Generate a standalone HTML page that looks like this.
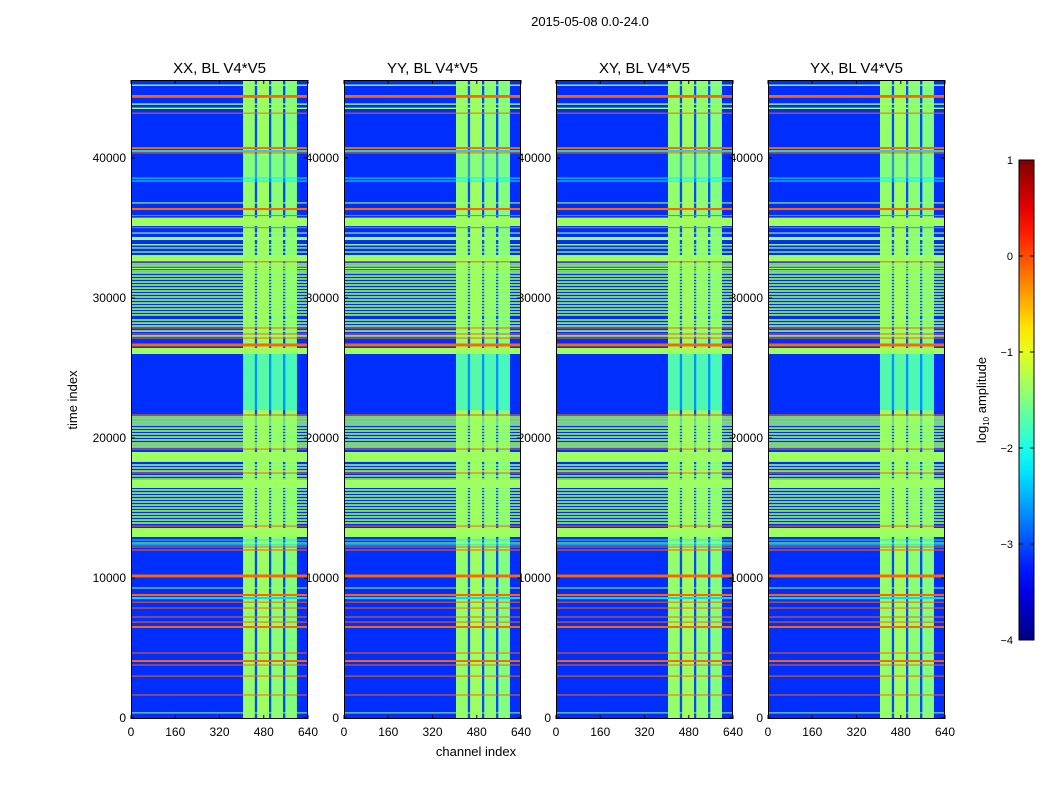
<!DOCTYPE html>
<html><head><meta charset="utf-8"><style>
html,body{margin:0;padding:0;background:#fff;}
svg{display:block;font-family:"Liberation Sans",sans-serif;}
</style></head><body>
<svg id="fig" width="1050" height="800" viewBox="0 0 1050 800">
<rect width="1050" height="800" fill="#fff"/>
<text x="590" y="26" font-size="13" text-anchor="middle">2015-05-08 0.0-24.0</text>
<text transform="translate(77,400) rotate(-90)" font-size="13" text-anchor="middle">time index</text>
<text x="476" y="756" font-size="13" text-anchor="middle">channel index</text>
<g id="labels"></g>
<g id="panels"></g>
<g id="cbar"></g>
</svg>
<script>
const panelTitles = ["XX, BL V4*V5","YY, BL V4*V5","XY, BL V4*V5","YX, BL V4*V5"];
const xTicks = [0,160,320,480,640];
const yTicks = [0,10000,20000,30000,40000];
const cbarTicks = [1,0,-1,-2,-3,-4];
const cbarTickLabels = ["1","0","\u22121","\u22122","\u22123","\u22124"];
const nChannels = 640;
const nTimes = 45600;
const backgroundLevel = -3.15;
// RFI channel columns: [chStart, chEnd, log10 amplitude]
const channelColumns = [[405,448,-1.4],[448,456,-3.0],[456,499,-1.35],[499,507,-3.0],[507,550,-1.45],[550,558,-3.0],[558,600,-1.5]];
// regions where columns are dimmer: [tStart,tEnd,level] on columns only
const quietColumns = [[22000,26000,-2.2],[38600,40300,-1.6]];
// wide horizontal bands: [tStart, tEnd, level]
const wideBands = [
 [45150,45250,-1.35],[44300,44500,-0.12],[43800,43900,-1.35],[43500,43600,-1.35],[43170,43240,-0.12],
 [40640,40780,-0.12],[40430,40570,-2.3],[40330,40400,-0.12],[38530,38600,-2.2],[38320,38390,-2.2],
 [36750,36830,-1.35],[36280,36430,-0.12],[35850,35930,-0.12],[35140,35740,-1.35],[34990,35060,-0.12],
 [34600,34680,-1.35],[34140,34360,-1.35],[33750,33850,-1.35],[33530,33620,-1.35],[33240,33330,-1.35],
 [32640,33070,-1.35],[32560,32620,-0.12],[26540,26750,-0.12],[26000,26430,-1.35],
 [21600,21680,-0.12],[18290,19000,-1.35],[16430,17000,-1.35],[12930,13570,-1.35],
 [12680,12750,-2.2],[12460,12540,-1.35],[12330,12400,-2.2],[12180,12250,-0.12],[11960,12040,-0.12],
 [10040,10250,-0.12],[9250,9320,-1.35],[8710,8860,-0.12],[8500,8640,-2.3],[8250,8310,-0.12],
 [7820,7890,-0.12],[7180,7250,-0.12],[6830,6890,-0.12],[6430,6570,-0.12],[4610,4680,-0.12],
 [4000,4140,-0.12],[3750,3820,-0.12],[2960,3030,-0.12],[1610,1680,-0.12],[330,400,-1.35]
];
// thin green lines: center times
const greenLines = [32430,32290,32110,31930,31790,31570,31360,31140,30930,30710,30500,30290,30070,29860,29640,29430,29210,29000,28790,28430,28210,28000,27640,27290,
 21500,21360,21210,21070,20930,20710,20500,20290,20070,19860,19640,19500,19360,18070,17860,17640,17290,17070,
 16290,16070,15860,15640,15430,15210,15000,14790,14570,14360,14140,13930];
// thin orange lines: center times
const orangeLines = [27860,27430,27140,19210,17500,13710];

function jet(v){
  let x=(v+4)/5; x=Math.max(0,Math.min(1,x));
  const c=a=>Math.round(255*Math.max(0,Math.min(1,a)));
  return `rgb(${c(1.5-Math.abs(4*x-3))},${c(1.5-Math.abs(4*x-2))},${c(1.5-Math.abs(4*x-1))})`;
}
const NS="http://www.w3.org/2000/svg";
function mk(tag,attrs,parent){const e=document.createElementNS(NS,tag);for(const k in attrs)e.setAttribute(k,attrs[k]);parent.appendChild(e);return e;}
const panelX=[131,344,556,768], PW=177, PTOP=80, PBOT=719;
const yScale=t=>718 - t*(560/40000);
const labelsG=document.getElementById('labels'), panelsG=document.getElementById('panels');
panelX.forEach((x0,pi)=>{
  const xScale=c=>x0 + c/nChannels*PW;
  yTicks.forEach(t=>{const tx=mk('text',{x:x0-5,y:yScale(t)+4,'font-size':12,'text-anchor':'end'},labelsG);tx.textContent=t;
    
    });
  xTicks.forEach(c=>{const tx=mk('text',{x:xScale(c),y:736,'font-size':12,'text-anchor':'middle'},labelsG);tx.textContent=c;
    
    });
  const g=mk('g',{},panelsG);
  
  
  const tt=mk('text',{x:x0+PW/2,y:73,'font-size':15,'text-anchor':'middle'},g);tt.textContent=panelTitles[pi];
  
  
  const bg=mk('rect',{x:x0,y:PTOP,width:PW,height:PBOT-PTOP,fill:jet(backgroundLevel)},g);
  
  
  channelColumns.forEach(cc=>{const r=mk('rect',{x:xScale(cc[0]),y:PTOP,width:xScale(cc[1])-xScale(cc[0]),height:PBOT-PTOP,fill:jet(cc[2])},g);
    
    });
  quietColumns.forEach(q=>{const r=mk('rect',{x:xScale(405),y:yScale(q[1]),width:xScale(600)-xScale(405),height:yScale(q[0])-yScale(q[1]),fill:jet(q[2]),opacity:0.45},g);
    
    });
  const band=(t0,t1,lv,name)=>{const y1=yScale(t1),y0=yScale(t0);const r=mk('rect',{x:x0,y:y1,width:PW,height:Math.max(1,y0-y1),fill:jet(lv)},g);
    
    };
  greenLines.forEach(t=>band(t-55,t+55,-1.35,'green-rfi-line'));
  wideBands.forEach(b=>band(b[0],b[1],b[2],'rfi-band'));
  orangeLines.forEach(t=>band(t-35,t+35,-0.12,'orange-rfi-line'));
  mk('rect',{x:x0+0.5,y:PTOP+0.5,width:PW-1,height:PBOT-PTOP-1,fill:'none',stroke:'#000','stroke-width':1},g);
  xTicks.forEach(c=>{const x=xScale(c);mk('line',{x1:x,x2:x,y1:PBOT,y2:PBOT-4,stroke:'#000'},g);mk('line',{x1:x,x2:x,y1:PTOP,y2:PTOP+4,stroke:'#000'},g);});
  yTicks.forEach(t=>{const y=yScale(t);mk('line',{x1:x0,x2:x0+4,y1:y,y2:y,stroke:'#000'},g);mk('line',{x1:x0+PW,x2:x0+PW-4,y1:y,y2:y,stroke:'#000'},g);});
});
// colorbar
const cb=document.getElementById('cbar');


const CX=1019,CW=15,CT=160,CB=640;
const cbScale=v=>CB-(v+4)/5*(CB-CT);
const defs=mk('defs',{},cb);
const lg=mk('linearGradient',{id:'jetg',x1:0,y1:1,x2:0,y2:0},defs);
for(let i=0;i<=20;i++){const v=-4+i*0.25;mk('stop',{offset:i/20,'stop-color':jet(v)},lg);}
mk('rect',{x:CX,y:CT,width:CW,height:CB-CT,fill:'url(#jetg)',stroke:'#000','stroke-width':1},cb);
cbarTicks.forEach((v,i)=>{const y=cbScale(v);mk('line',{x1:CX,x2:CX+4,y1:y,y2:y,stroke:'#000'},cb);mk('line',{x1:CX+CW,x2:CX+CW-4,y1:y,y2:y,stroke:'#000'},cb);
  const t=mk('text',{x:CX-6,y:y+4,'font-size':11,'text-anchor':'end'},cb);t.textContent=cbarTickLabels[i];
  
  });
const cl=mk('text',{transform:'translate(986,400) rotate(-90)','font-size':13,'text-anchor':'middle'},cb);
cl.innerHTML='log<tspan font-size="8" dy="3">10</tspan><tspan dy="-3"> amplitude</tspan>';


</script>
</body></html>
